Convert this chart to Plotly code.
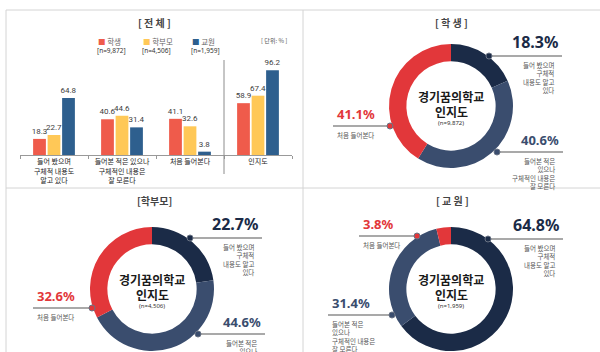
import plotly.graph_objects as go

# ---------------- data ----------------
groups = ["학생", "학부모", "교원"]
group_n = ["[n=9,872]", "[n=4,506]", "[n=1,959]"]
pie_n = ["(n=9,872)", "(n=4,506)", "(n=1,959)"]
categories = ["들어 봤으며<br>구체적 내용도<br>알고 있다",
              "들어본 적은 있으나<br>구체적인 내용은<br>잘 모른다",
              "처음 들어본다",
              "인지도"]
# values per group, ordered as categories
student = [18.3, 40.6, 41.1, 58.9]
parent = [22.7, 44.6, 32.6, 67.4]
teacher = [64.8, 31.4, 3.8, 96.2]
series = [student, parent, teacher]
pie_titles = ["[ 학 생 ]", "[학부모]", "[ 교 원 ]"]
slice_desc = ["들어 봤으며<br>구체적<br>내용도 알고<br>있다",
              "들어본 적은<br>있으나<br>구체적인 내용은<br>잘 모른다",
              "처음 들어본다"]

# ---------------- style ----------------
W, H = 600, 352
bar_colors = ["#EF5B4B", "#FFC857", "#2E5F8E"]
slice_colors = ["#1B2B47", "#3A4D6E", "#E2373A"]
KR = "Noto Sans CJK KR"
NUM = "Noto Sans, Noto Sans CJK KR"


def X(px):
    return px / W


def Y(py):
    return 1 - py / H


def clamp(v):
    return min(1.0, max(0.0, v))


fig = go.Figure()

# ---------------- bar chart ----------------
for name, vals, col in zip(groups, series, bar_colors):
    fig.add_trace(go.Bar(
        x=categories, y=vals, name=name, marker_color=col,
        marker_line_width=0,
        text=vals, texttemplate="%{y:.1f}", textposition="outside",
        constraintext="none",
        textfont=dict(size=8, color="#404040", family="Roboto"),
        cliponaxis=False, showlegend=False, hoverinfo="skip"))

fig.update_layout(
    barmode="group", bargap=0.36, bargroupgap=0.12,
    xaxis=dict(domain=[X(20), X(292)], anchor="y",
               showline=True, linecolor="#999", linewidth=1,
               ticks="outside", tickson="boundaries", ticklen=3, tickcolor="#999",
               showgrid=False, zeroline=False,
               tickfont=dict(size=7, color="#222", family=KR)),
    yaxis=dict(domain=[Y(155), Y(67)], range=[0, 100], visible=False,
               showgrid=False, zeroline=False),
)

# ---------------- donuts ----------------
pie_centers = [(451, 106), (152, 289), (451, 289)]
R = 62
for g, (cx, cy) in enumerate(pie_centers):
    vals = series[g][:3]
    fig.add_trace(go.Pie(
        values=vals, labels=["a", "b", "c"], sort=False, direction="clockwise",
        rotation=0, hole=0.72,
        marker=dict(colors=slice_colors, line=dict(width=0)),
        textinfo="none", hoverinfo="skip", showlegend=False,
        domain=dict(x=[clamp(X(cx - R)), clamp(X(cx + R))],
                    y=[clamp(Y(cy + R)), clamp(Y(cy - R))])))

ann = []
shapes = []


def note(x, y, text, size, color, family=KR, **kw):
    d = dict(x=X(x), y=Y(y), xref="paper", yref="paper", text=text, showarrow=False,
             xanchor="center", yanchor="middle",
             font=dict(size=size, color=color, family=family))
    d.update(kw)
    ann.append(d)


# panel borders
border = "#D4D4D4"
for (x0, y0, x1, y1) in [(6, 10, 600, 10), (6, 188, 600, 188), (6, 10, 6, 352), (303, 10, 303, 352)]:
    shapes.append(dict(type="line", xref="paper", yref="paper",
                       x0=X(x0), y0=Y(y0), x1=X(x1), y1=Y(y1),
                       line=dict(color=border, width=1)))

# separator in the bar chart
shapes.append(dict(type="line", xref="paper", yref="paper",
                   x0=X(224), x1=X(224), y0=Y(60), y1=Y(174),
                   line=dict(color="#8C8C8C", width=1)))

# bar chart title, legend, unit
note(154, 22, "<b>[ 전 체 ]</b>", 10, "#444")
leg_x = [96, 141, 190]
for name, n, col, lx in zip(groups, group_n, bar_colors, leg_x):
    note(lx, 41.5, f"<span style='color:{col}'>■</span> {name}", 7.5, "#666", xanchor="left")
    note(lx - 1, 50.5, n, 6.5, "#333", family=NUM, xanchor="left")
note(274, 41, "[ 단위: % ]", 6, "#555")

# pie titles and centre text
title_pos = [(451, 22), (154, 200), (452, 200)]
for g, (cx, cy) in enumerate(pie_centers):
    tx, ty = title_pos[g]
    note(tx, ty, f"<b>{pie_titles[g]}</b>", 10, "#444")
    note(cx, cy - 10, "<b>경기꿈의학교</b>", 12, "#1a1a1a")
    note(cx, cy + 5, "<b>인지도</b>", 12, "#1a1a1a")
    note(cx, cy + 17, pie_n[g], 6, "#333", family=NUM)

# callouts: (slice index, line_y, x_left, x_right, dot_side, label_size)
callouts = [
    # student
    [(0, 56, 489, 562, "left", 16), (1, 152, 497, 563, "left", 13), (2, 126, 333, 390, "right", 13)],
    # parent
    [(0, 238, 190, 262, "left", 16), (1, 334, 198, 265, "left", 13), (2, 308, 33, 92, "right", 13)],
    # teacher
    [(0, 239, 488, 563, "left", 16), (1, 315, 328, 392, "right", 13), (2, 236, 359, 417, "right", 13)],
]
label_colors = ["#1B2B47", "#3A4D6E", "#E2373A"]
for g, items in enumerate(callouts):
    for (s, ly, xl, xr, dot, fs) in items:
        val = series[g][s]
        shapes.append(dict(type="line", xref="paper", yref="paper",
                           x0=X(xl), x1=X(xr), y0=Y(ly), y1=Y(ly),
                           line=dict(color="#8C8C8C", width=1.5)))
        dx = xl if dot == "left" else xr
        shapes.append(dict(type="circle", xref="paper", yref="paper",
                           x0=X(dx - 3), x1=X(dx + 3), y0=Y(ly + 3), y1=Y(ly - 3),
                           fillcolor=slice_colors[s], line=dict(color="#6A7384", width=1)))
        if dot == "left":
            anc, tx = "right", xr - 2
        else:
            anc, tx = "left", xl + 2
        note(tx, ly - 1, f"<b>{val:.1f}%</b>", fs, label_colors[s], family=NUM,
             xanchor=anc, yanchor="bottom")
        note(tx - (4 if dot == "left" else 0), ly + 2, slice_desc[s], 6.5, "#555",
             xanchor=anc, yanchor="top", align=anc)

fig.update_layout(
    width=W, height=H, margin=dict(l=0, r=0, t=0, b=0),
    paper_bgcolor="white", plot_bgcolor="white",
    annotations=ann, shapes=shapes,
)

fig.write_html("out.html")
